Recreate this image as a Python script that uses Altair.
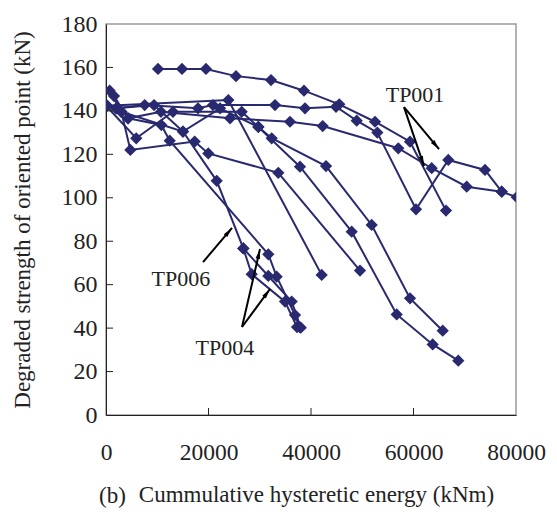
import math
import altair as alt
import pandas as pd

NAVY = "#29296f"
FONT = "Liberation Serif"

# ---- data ----
s1_x = [10150, 14830, 19510, 25370, 32200, 38630, 45520, 52490, 59320, 66340]
s1_y = [159.3, 159.3, 159.3, 156.0, 154.2, 149.3, 143.0, 135.0, 125.8, 94.1]

s2_x = [0, 2000, 7550, 17950, 20880, 32980, 38830, 44880, 48920, 52940, 60490, 66790, 73950, 77210]
s2_y = [142.4, 141.2, 142.7, 141.2, 142.7, 142.7, 141.2, 141.9, 135.5, 130.0, 94.7, 117.4, 112.8, 102.8]

s3_x = [1560, 4300, 10730, 24200, 35900, 42280, 57030, 63550, 70380, 77210, 80140, 84000]
s3_y = [146.8, 136.6, 139.6, 136.6, 135.0, 133.0, 122.8, 113.6, 105.1, 102.8, 100.3, 95.5]

s4_x = [250, 23870, 42080]
s4_y = [142.4, 145.0, 64.5]

s5_x = [720, 2990, 4750, 17300, 19960, 33620, 49560]
s5_y = [149.3, 139.6, 122.0, 125.9, 120.4, 111.5, 66.5]

s6_x = [0, 5900, 13070, 26480, 29730, 32330, 42930, 51840, 59320, 65700]
s6_y = [142.4, 127.4, 139.6, 139.6, 132.6, 127.4, 114.6, 87.5, 53.7, 38.8]

s7_x = [2000, 9370, 15020, 22250, 29730, 37850, 47940, 56720, 63740, 68740]
s7_y = [141.2, 142.7, 130.5, 141.2, 132.6, 114.3, 84.4, 46.3, 32.5, 25.0]

s8_x = [4300, 10800, 12430, 31670, 33300, 36880, 37800]
s8_y = [136.6, 133.5, 126.3, 74.0, 63.7, 46.0, 40.5]

s9_x = [2990, 15020, 21600, 26800, 28430, 34930, 37270]
s9_y = [139.6, 130.5, 107.8, 76.7, 64.8, 52.2, 40.5]

s10_x = [26800, 31670, 36230, 38000]
s10_y = [76.7, 64.0, 52.2, 40.2]

series = {
    "S1": (s1_x, s1_y), "S2": (s2_x, s2_y), "S3": (s3_x, s3_y), "S4": (s4_x, s4_y),
    "S5": (s5_x, s5_y), "S6": (s6_x, s6_y), "S7": (s7_x, s7_y), "S8": (s8_x, s8_y),
    "S9": (s9_x, s9_y), "S10": (s10_x, s10_y),
}

x_ticks = [0, 20000, 40000, 60000, 80000]
y_ticks = [0, 20, 40, 60, 80, 100, 120, 140, 160, 180]
inner_x_ticks = [20000, 40000, 60000]
inner_y_ticks = [20, 40, 60, 80, 100, 120, 140, 160]

labels = ["TP001", "TP006", "TP004"]
label_x = [60300, 14600, 23200]
label_y = [147.3, 62.6, 30.8]

arrow_tail_x = [58150, 58150, 18930, 26540, 26540]
arrow_tail_y = [141.7, 141.7, 70.4, 40.5, 40.5]
arrow_tip_x = [64980, 62050, 24590, 30050, 32000]
arrow_tip_y = [122.4, 114.6, 86.1, 76.4, 58.0]

# ---- layout ----
W, H = 410, 391
XMAX, YMAX = 80000, 180

rows = []
for name, (xs_, ys_) in series.items():
    for i, (xv, yv) in enumerate(zip(xs_, ys_)):
        rows.append({"series": name, "idx": i, "x": xv, "y": yv})
df = pd.DataFrame(rows)

xs = alt.Scale(domain=[0, XMAX], nice=False, zero=False)
ys = alt.Scale(domain=[0, YMAX], nice=False, zero=False)

xenc = alt.X("x:Q", scale=xs, axis=alt.Axis(
    values=x_ticks, format="d", ticks=False, grid=False, domainColor="#222",
    labelFont=FONT, labelFontSize=23.5, labelColor="#222", labelPadding=25,
    title="Cummulative hysteretic energy (kNm)", titleFont=FONT, titleFontSize=23,
    titleFontWeight="normal", titleColor="#222", titlePadding=20, titleX=210,
    labelFlush=False))
yenc = alt.Y("y:Q", scale=ys, axis=alt.Axis(
    values=y_ticks, ticks=False, grid=False, domainColor="#222",
    labelFont=FONT, labelFontSize=24, labelColor="#222", labelPadding=9,
    title="Degraded strength of oriented point (kN)", titleFont=FONT, titleFontSize=23,
    titleFontWeight="normal", titleColor="#222", titlePadding=27))

base = alt.Chart(df)
lines = base.mark_line(color=NAVY, strokeWidth=2, clip=True).encode(
    x=xenc, y=yenc, detail="series:N", order="idx:Q")
points = base.mark_point(shape="diamond", filled=True, color=NAVY, size=150, opacity=1, clip=True).encode(
    x=alt.X("x:Q", scale=xs), y=alt.Y("y:Q", scale=ys))

yt = alt.Chart(pd.DataFrame({"v": inner_y_ticks})).mark_rule(color="#222", strokeWidth=1).encode(
    y=alt.Y("v:Q", scale=ys), x=alt.value(0), x2=alt.value(7))
xt = alt.Chart(pd.DataFrame({"v": inner_x_ticks})).mark_rule(color="#222", strokeWidth=1).encode(
    x=alt.X("v:Q", scale=xs), y=alt.value(H), y2=alt.value(H - 7))

txt = alt.Chart(pd.DataFrame({"t": labels, "x": label_x, "y": label_y})).mark_text(
    font=FONT, fontSize=22, color="#222", align="center", baseline="middle").encode(
    x=alt.X("x:Q", scale=xs), y=alt.Y("y:Q", scale=ys), text="t:N")

ang = []
for tx, ty, hx, hy in zip(arrow_tail_x, arrow_tail_y, arrow_tip_x, arrow_tip_y):
    dx = (hx - tx) * W / XMAX
    dy = (hy - ty) * H / YMAX
    ang.append(math.degrees(math.atan2(dx, dy)) % 360)
adf = pd.DataFrame({"x": arrow_tail_x, "y": arrow_tail_y, "x2": arrow_tip_x, "y2": arrow_tip_y, "a": ang})
arr_lines = alt.Chart(adf).mark_rule(color="black", strokeWidth=2).encode(
    x=alt.X("x:Q", scale=xs), y=alt.Y("y:Q", scale=ys), x2="x2:Q", y2="y2:Q")
arr_heads = alt.Chart(adf).mark_point(shape="M0,0L0.45,2L-0.45,2Z", filled=True, color="black",
                                      size=100, opacity=1).encode(
    x=alt.X("x2:Q", scale=xs), y=alt.Y("y2:Q", scale=ys), angle=alt.Angle("a:Q", scale=None))

blabel = alt.Chart(pd.DataFrame({"t": ["(b)"]})).mark_text(
    font=FONT, fontSize=23, color="#222", align="left", baseline="middle").encode(
    x=alt.value(-7), y=alt.value(H + 81), text="t:N")

chart = alt.layer(lines, points, yt, xt, arr_lines, arr_heads, txt, blabel).properties(
    width=W, height=H,
    autosize=alt.AutoSizeParams(type="none"),
    padding={"left": 98, "top": 16, "right": 33, "bottom": 96},
).configure_view(stroke="#9a9a9a", strokeWidth=1.5)

chart.save("out.html", embed_options={"renderer": "svg", "actions": False})
